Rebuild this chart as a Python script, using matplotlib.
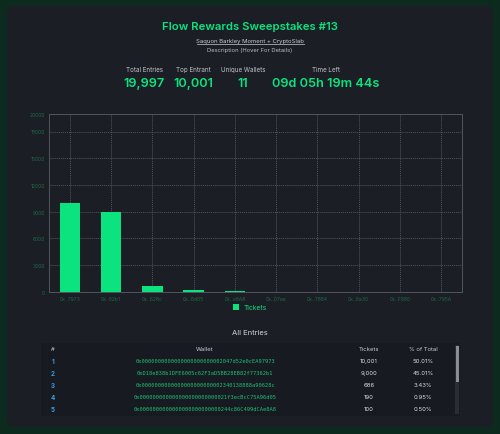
import matplotlib
matplotlib.use('Agg')
import matplotlib.pyplot as plt
from matplotlib.patches import FancyBboxPatch, Rectangle

# Sweepstakes data
wallet_labels = ['0x..7973', '0x..62b1', '0x..628c', '0x..6d05', '0x..e8A8',
                 '0x..07ae', '0x..7884', '0x..6a30', '0x..F880', '0x..795A']
tickets = [10001, 9000, 686, 190, 100, 8, 4, 3, 2, 2]
y_ticks = [0, 3000, 6000, 9000, 12000, 15000, 18000, 20000]

stat_labels = ['Total Entries', 'Top Entrant', 'Unique Wallets', 'Time Left']
stat_values = ['19,997', '10,001', '11', '09d 05h 19m 44s']
stat_x = [144, 193, 243, 326]

row_ranks = ['1', '2', '3', '4', '5']
row_wallets = ['0x0000000000000000000000002047d52e0cEA97973',
               '0xD18e838b1DFE6005c62F3aD5BB28EB82f77362b1',
               '0x0000000000000000000000002340138888a90628c',
               '0x000000000000000000000000021f3ecBcC75A96d05',
               '0x0000000000000000000000000244c86C499dCAe8A8']
row_tickets = ['10,001', '9,000', '686', '190', '100']
row_pct = ['50.01%', '45.01%', '3.43%', '0.95%', '0.50%']

GREEN = '#0be37f'
CARD = '#1b1e25'
OUTER = '#0d2a1e'
GRID = '#50565e'
TICK = '#1d6b48'

plt.rcParams['font.family'] = ['Inter', 'DejaVu Sans']

W, H = 500, 435
fig = plt.figure(figsize=(5, 4.35), dpi=100)
fig.patch.set_facecolor(OUTER)


def fx(x):
    return x / W


def fy(y):
    return 1 - y / H


# card background (kept behind the axes)
card = FancyBboxPatch((fx(7), fy(428)), fx(486), 421 / H,
                      boxstyle='round,pad=0,rounding_size=0.015',
                      transform=fig.transFigure, facecolor=CARD, edgecolor='none', zorder=-2)
fig.patches.append(card)

# header texts
fig.text(0.5, fy(27), 'Flow Rewards Sweepstakes #13', color=GREEN, fontsize=8.2,
         fontweight='semibold', ha='center', va='center')
fig.text(0.5, fy(41), 'Saquon Barkley Moment + CryptoSlab', color='#c8ccd2', fontsize=4.3,
         ha='center', va='center')
fig.lines.append(plt.Line2D([fx(197), fx(304)], [fy(44.5), fy(44.5)], color='#c8ccd2',
                            linewidth=0.5, transform=fig.transFigure))
fig.text(0.5, fy(50.5), 'Description (Hover For Details)', color='#b8bcc2', fontsize=4.2,
         ha='center', va='center')

for lbl, val, x in zip(stat_labels, stat_values, stat_x):
    fig.text(fx(x), fy(70), lbl, color='#c0c4ca', fontsize=4.5, ha='center', va='center')
    fig.text(fx(x), fy(84), val, color=GREEN, fontsize=9.2, fontweight='semibold',
             ha='center', va='center')

# bar chart
ax = fig.add_axes([fx(49.3), fy(292.7), fx(412.4), 178 / H])
ax.set_facecolor(CARD)
pos = range(len(tickets))
ax.bar(pos, tickets, width=0.5, color=GREEN, zorder=3, label='Tickets')
ax.set_xlim(-0.5, len(tickets) - 0.5)
ax.set_ylim(0, 20000)
ax.set_yticks(y_ticks)
ax.set_xticks(list(pos))
ax.set_xticklabels(wallet_labels)
ax.tick_params(colors=TICK, labelsize=3.6, length=0, pad=3)
ax.grid(True, color=GRID, linestyle=(0, (1, 1)), linewidth=0.7, zorder=0)
for s in ax.spines.values():
    s.set_color(GRID)
    s.set_linestyle((0, (1, 1)))
    s.set_linewidth(0.7)

leg = fig.legend(loc='center', bbox_to_anchor=(0.5, fy(308)), frameon=False,
                 fontsize=4.8, handlelength=0.9, handleheight=0.9, handletextpad=0.6)
for t in leg.get_texts():
    t.set_color(GREEN)

fig.text(0.5, fy(333), 'All Entries', color='#d0d4da', fontsize=5.5, ha='center', va='center')

# entries table
fig.patches.append(Rectangle((fx(41), fy(417)), fx(419), 73 / H, transform=fig.transFigure,
                             facecolor='#171a20', edgecolor='none', zorder=-1))
fig.patches.append(Rectangle((fx(455), fy(415)), fx(4), 69 / H, transform=fig.transFigure,
                             facecolor='#2a2d33', edgecolor='none', zorder=-1))
fig.patches.append(Rectangle((fx(455.5), fy(383)), fx(3), 36 / H, transform=fig.transFigure,
                             facecolor='#8a8d92', edgecolor='none', zorder=-1))

col_x = [53, 205, 369, 423]
headers = ['#', 'Wallet', 'Tickets', '% of Total']
for h, x in zip(headers, col_x):
    fig.text(fx(x), fy(350), h, color='#c8ccd2', fontsize=4.3, ha='center', va='center')

for i in range(len(row_ranks)):
    y = 362 + i * 12
    fig.lines.append(plt.Line2D([fx(41), fx(453)], [fy(y - 6), fy(y - 6)], color='#22262d',
                                linewidth=0.5, transform=fig.transFigure, zorder=-1))
    fig.text(fx(col_x[0]), fy(y), row_ranks[i], color='#3a9fe0', fontsize=4.5,
             ha='center', va='center', fontweight='bold')
    fig.text(fx(col_x[1]), fy(y), row_wallets[i], color='#1fc075', fontsize=3.85,
             ha='center', va='center', family='DejaVu Sans Mono')
    fig.text(fx(col_x[2]), fy(y), row_tickets[i], color='#d8dce2', fontsize=4.3,
             ha='center', va='center')
    fig.text(fx(col_x[3]), fy(y), row_pct[i], color='#d8dce2', fontsize=4.3,
             ha='center', va='center')

fig.savefig('out.png', dpi=100, facecolor=fig.get_facecolor())
